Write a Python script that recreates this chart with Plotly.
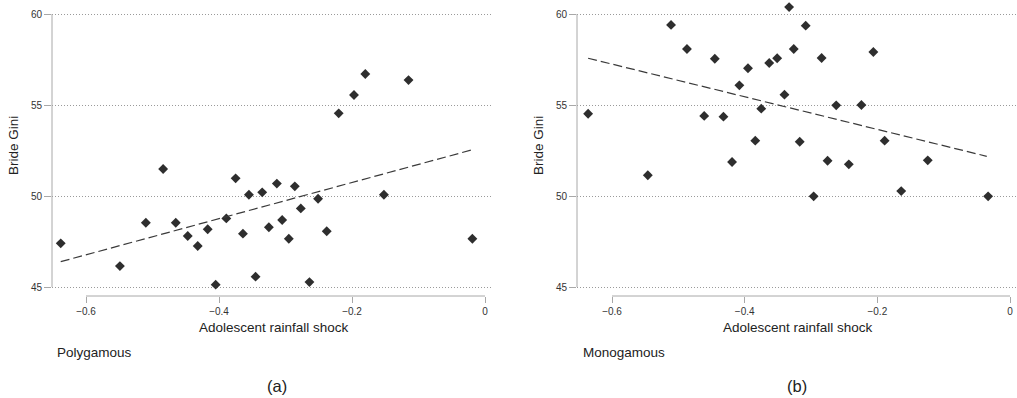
import plotly.graph_objects as go

# Polygamous households
poly_shock = [-0.638, -0.549, -0.510, -0.484, -0.465, -0.447, -0.432, -0.417, -0.405, -0.389,
              -0.375, -0.364, -0.355, -0.345, -0.335, -0.325, -0.313, -0.305, -0.295, -0.286,
              -0.277, -0.264, -0.251, -0.238, -0.220, -0.197, -0.180, -0.152, -0.115, -0.019]
poly_gini = [47.40, 46.15, 48.53, 51.48, 48.53, 47.80, 47.25, 48.17, 45.13, 48.77,
             50.97, 47.93, 50.07, 45.57, 50.20, 48.28, 50.68, 48.68, 47.65, 50.53,
             49.32, 45.27, 49.85, 48.06, 54.54, 55.55, 56.70, 50.07, 56.37, 47.65]
poly_fit_x = [-0.638, -0.019]
poly_fit_y = [46.39, 52.54]

# Monogamous households
mono_shock = [-0.636, -0.546, -0.511, -0.487, -0.461, -0.445, -0.432, -0.419, -0.408, -0.395,
              -0.384, -0.375, -0.363, -0.351, -0.340, -0.333, -0.326, -0.317, -0.308, -0.296,
              -0.284, -0.275, -0.262, -0.243, -0.224, -0.206, -0.189, -0.164, -0.124, -0.033]
mono_gini = [54.52, 51.14, 59.40, 58.08, 54.40, 57.54, 54.36, 51.87, 56.08, 57.02,
             53.04, 54.80, 57.31, 57.57, 55.57, 60.38, 58.08, 52.98, 59.36, 49.98,
             57.58, 51.94, 54.98, 51.74, 55.00, 57.91, 53.04, 50.27, 51.96, 49.98]
mono_fit_x = [-0.636, -0.035]
mono_fit_y = [57.57, 52.18]

x_ticks = [-0.6, -0.4, -0.2, 0]
x_tick_text = ["\u22120.6", "\u22120.4", "\u22120.2", "0"]
y_ticks = [45, 50, 55, 60]
panel_groups = ["Polygamous", "Monogamous"]
panel_tags = ["(a)", "(b)"]

W, H = 1017, 398
FONT = "Liberation Sans, Arial, Helvetica, sans-serif"
AXIS_GREY = "#a8a8a8"
MARK = "#2e2e2e"

fig = go.Figure()

panels = [
    (poly_shock, poly_gini, poly_fit_x, poly_fit_y, "x", "y"),
    (mono_shock, mono_gini, mono_fit_x, mono_fit_y, "x2", "y2"),
]
for sx, sy, fx, fy, xa, ya in panels:
    fig.add_trace(go.Scatter(
        x=sx, y=sy, mode="markers", xaxis=xa, yaxis=ya,
        marker=dict(symbol="diamond", size=7.6, color=MARK, line=dict(width=0)),
        showlegend=False, hoverinfo="skip"))
    fig.add_trace(go.Scatter(
        x=fx, y=fy, mode="lines", xaxis=xa, yaxis=ya,
        line=dict(color="#3a3a3a", width=1.2, dash="9px,4px"),
        showlegend=False, hoverinfo="skip"))

y_dom = [1 - 296 / H, 1.0]
y_rng = [45 - 9 / 18.2, 60 + 14 / 18.2]

def xaxis_cfg(dom, rng):
    return dict(domain=dom, range=rng, tickvals=x_ticks, ticktext=x_tick_text,
                showgrid=False, zeroline=False, showline=False,
                ticks="outside", ticklen=6, tickwidth=1, tickcolor=AXIS_GREY,
                tickfont=dict(family=FONT, size=10, color="#333333"),
                automargin=False, fixedrange=True)

def yaxis_cfg(anchor):
    return dict(domain=y_dom, range=y_rng, tickvals=y_ticks, anchor=anchor,
                showgrid=True, gridcolor="#9a9a9a", gridwidth=1, griddash="1px,2px",
                zeroline=False, showline=False,
                ticks="outside", ticklen=7, tickwidth=1, tickcolor=AXIS_GREY,
                tickfont=dict(family=FONT, size=10, color="#333333"),
                automargin=False, fixedrange=True)

fig.update_layout(
    width=W, height=H,
    margin=dict(l=0, r=0, t=0, b=0),
    paper_bgcolor="white", plot_bgcolor="white",
    xaxis=dict(**xaxis_cfg([52 / W, 493 / W], [-0.6 - 34 / 665, 8 / 665]), anchor="y"),
    yaxis=yaxis_cfg("x"),
    xaxis2=dict(**xaxis_cfg([577 / W, 1.0], [-0.6 - 35 / 663.3, 7 / 663.3]), anchor="y2"),
    yaxis2=yaxis_cfg("x2"),
)

# Axis lines limited to the tick span (offset style)
for xa, ya in [("x", "y"), ("x2", "y2")]:
    fig.add_shape(type="line", xref=xa, yref=f"{ya} domain",
                  x0=-0.6, x1=0, y0=0, y1=0,
                  line=dict(color=AXIS_GREY, width=1))
    fig.add_shape(type="line", xref=f"{xa} domain", yref=ya,
                  x0=0, x1=0, y0=45, y1=60,
                  line=dict(color=AXIS_GREY, width=1))

def px(xp):
    return xp / W

def py(yp):
    return 1 - yp / H

text_font = dict(family=FONT, size=13.5, color="#222222")
ann = []
for i, (xc_title, x_ylab, x_group, xc_tag) in enumerate(
        [(274, 14, 55, 277), (798, 539, 581, 797)]):
    ann.append(dict(text="Adolescent rainfall shock", x=px(xc_title), y=py(327.5),
                    xanchor="center", yanchor="middle", font=text_font))
    ann.append(dict(text="Bride Gini", x=px(x_ylab), y=py(146), textangle=-90,
                    xanchor="center", yanchor="middle", font=text_font))
    ann.append(dict(text=panel_groups[i], x=px(x_group), y=py(352), xanchor="left",
                    yanchor="middle", font=text_font))
    ann.append(dict(text=panel_tags[i], x=px(xc_tag), y=py(386), xanchor="center",
                    yanchor="middle", font=dict(family=FONT, size=16.5, color="#222222")))

for a in ann:
    a.update(xref="paper", yref="paper", showarrow=False)
fig.update_layout(annotations=ann)

fig.write_html("out.html")
